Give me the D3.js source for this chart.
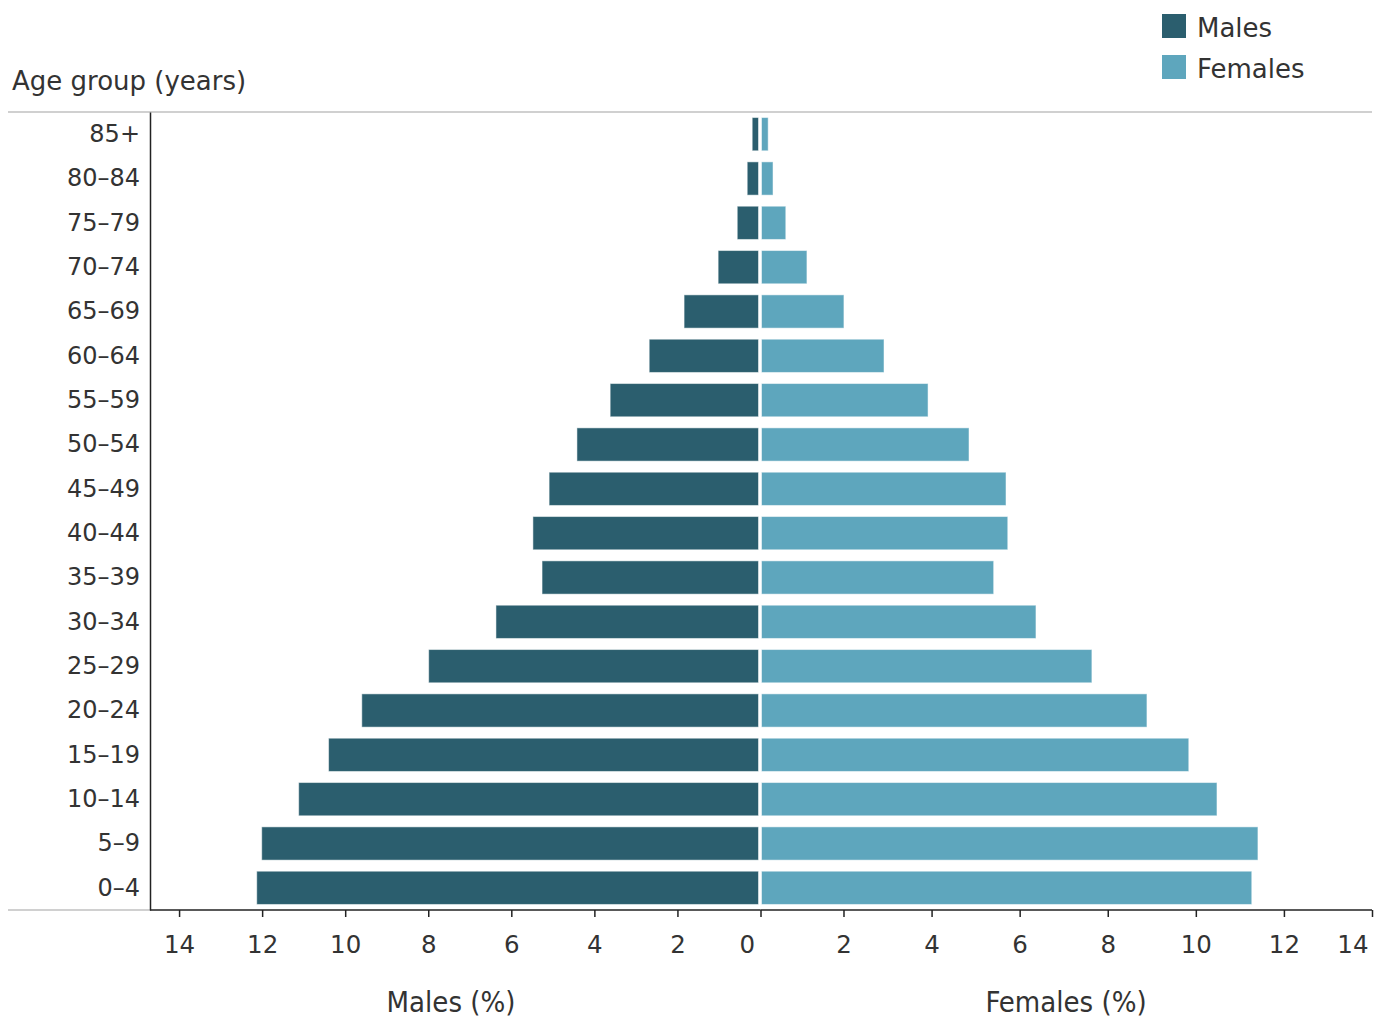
<!DOCTYPE html>
<html>
<head>
<meta charset="utf-8">
<script src="https://cdn.jsdelivr.net/npm/d3@7"></script>
<style>
  html, body { margin: 0; padding: 0; background: #fff; }
  svg { display: block; }
  text { font-family: "DejaVu Sans", "Open Sans", sans-serif; fill: #333; }
</style>
</head>
<body>
<svg id="chart" width="1387" height="1021"></svg>
<script>
const ageGroups = ["85+","80–84","75–79","70–74","65–69","60–64","55–59","50–54","45–49","40–44","35–39","30–34","25–29","20–24","15–19","10–14","5–9","0–4"];
const malesPct   = [0.20,0.32,0.56,1.02,1.84,2.68,3.62,4.42,5.09,5.48,5.26,6.37,7.99,9.60,10.40,11.12,12.01,12.13];
const femalesPct = [0.29,0.40,0.69,1.17,2.01,2.92,3.92,4.85,5.69,5.73,5.41,6.37,7.64,8.89,9.84,10.48,11.41,11.27];
const maleTicks   = [0,2,4,6,8,10,12,14];
const femaleTicks = [2,4,6,8,10,12,14];
const seriesNames = ["Males","Females"];
const colors = {Males: "#2b5e6e", Females: "#5ea6bd"};

(function () {
const svg = d3.select("#chart");
const pTop = 112, pBottom = 910, pLeft = 150, pRight = 1372, mid = 760.5, femStart = 761.5;

const y = d3.scaleBand().domain(ageGroups).range([pTop, pBottom]).paddingInner(0.25).paddingOuter(0.125);
const xM = d3.scaleLinear().domain([0, 14.7]).range([mid, pLeft]);
const xF = d3.scaleLinear().domain([0, 14]).range([755.4, pRight]);

// frame lines
svg.append("line").attr("x1", 8).attr("x2", pRight).attr("y1", pTop).attr("y2", pTop)
  .attr("stroke", "#d0d0d0").attr("stroke-width", 2);
svg.append("line").attr("x1", 8).attr("x2", pLeft).attr("y1", pBottom).attr("y2", pBottom)
  .attr("stroke", "#d0d0d0").attr("stroke-width", 2);

// bars
const rows = ageGroups.map((g, i) => ({g, m: malesPct[i], f: femalesPct[i]}));
svg.append("g").selectAll("rect").data(rows).join("rect")
  .attr("x", d => xM(d.m)).attr("width", d => xM(0) - 2 - xM(d.m))
  .attr("y", d => y(d.g)).attr("height", y.bandwidth())
  .attr("fill", colors.Males).attr("stroke", "#ffffff").attr("stroke-opacity", 0.5).attr("stroke-width", 1);
svg.append("g").selectAll("rect").data(rows).join("rect")
  .attr("x", femStart).attr("width", d => xF(d.f) - femStart)
  .attr("y", d => y(d.g)).attr("height", y.bandwidth())
  .attr("fill", colors.Females).attr("stroke", "#ffffff").attr("stroke-opacity", 0.5).attr("stroke-width", 1);

// y axis
const yAxis = svg.append("g").attr("transform", `translate(${pLeft},0)`)
  .call(d3.axisLeft(y).tickSize(0).tickPadding(10));
yAxis.select(".domain").attr("stroke", "#222").attr("stroke-width", 1.5);
yAxis.selectAll("text").style("font-size", "24px").attr("fill", "#333");

// x axes
const axM = svg.append("g").attr("transform", `translate(0,${pBottom})`)
  .call(d3.axisBottom(xM).tickValues(maleTicks).tickSize(7).tickSizeOuter(0).tickPadding(19));
const axF = svg.append("g").attr("transform", `translate(0,${pBottom})`)
  .call(d3.axisBottom(xF).tickValues(femaleTicks).tickSize(7).tickSizeOuter(0).tickPadding(19));
[axM, axF].forEach(a => {
  a.selectAll(".tick line").attr("stroke", "#222").attr("stroke-width", 1.5);
  a.selectAll("text").style("font-size", "24.5px").attr("fill", "#333");
});
axM.select(".domain").attr("d", `M${xM(14.7)},0H${mid}`).attr("stroke", "#222").attr("stroke-width", 1.5);
axF.select(".domain").attr("d", `M${mid},0H${pRight}`).attr("stroke", "#222").attr("stroke-width", 1.5);
axM.selectAll(".tick text").filter(d => d === 0).attr("text-anchor", "end").attr("dx", "-6");
axF.selectAll(".tick text").filter(d => d === 14).attr("text-anchor", "end").attr("dx", "-4");

// titles
svg.append("text").attr("x", 12).attr("y", 90).text("Age group (years)").style("font-size", "26px");
svg.append("text").attr("x", 451).attr("y", 1012).attr("text-anchor", "middle")
  .text("Males (%)").style("font-size", "29px").style("font-family", "'Liberation Sans Narrow','DejaVu Sans Condensed',sans-serif");
svg.append("text").attr("x", 1066).attr("y", 1012).attr("text-anchor", "middle")
  .text("Females (%)").style("font-size", "29px").style("font-family", "'Liberation Sans Narrow','DejaVu Sans Condensed',sans-serif");

// legend
const lg = svg.append("g").attr("transform", "translate(1162,14)");
seriesNames.forEach((s, i) => {
  lg.append("rect").attr("x", 0).attr("y", i * 41).attr("width", 24).attr("height", 24).attr("fill", colors[s]);
  lg.append("text").attr("x", 35).attr("y", i * 41 + 14).attr("dy", "0.35em").text(s).style("font-size", "26px");
});
})();
</script>
</body>
</html>
